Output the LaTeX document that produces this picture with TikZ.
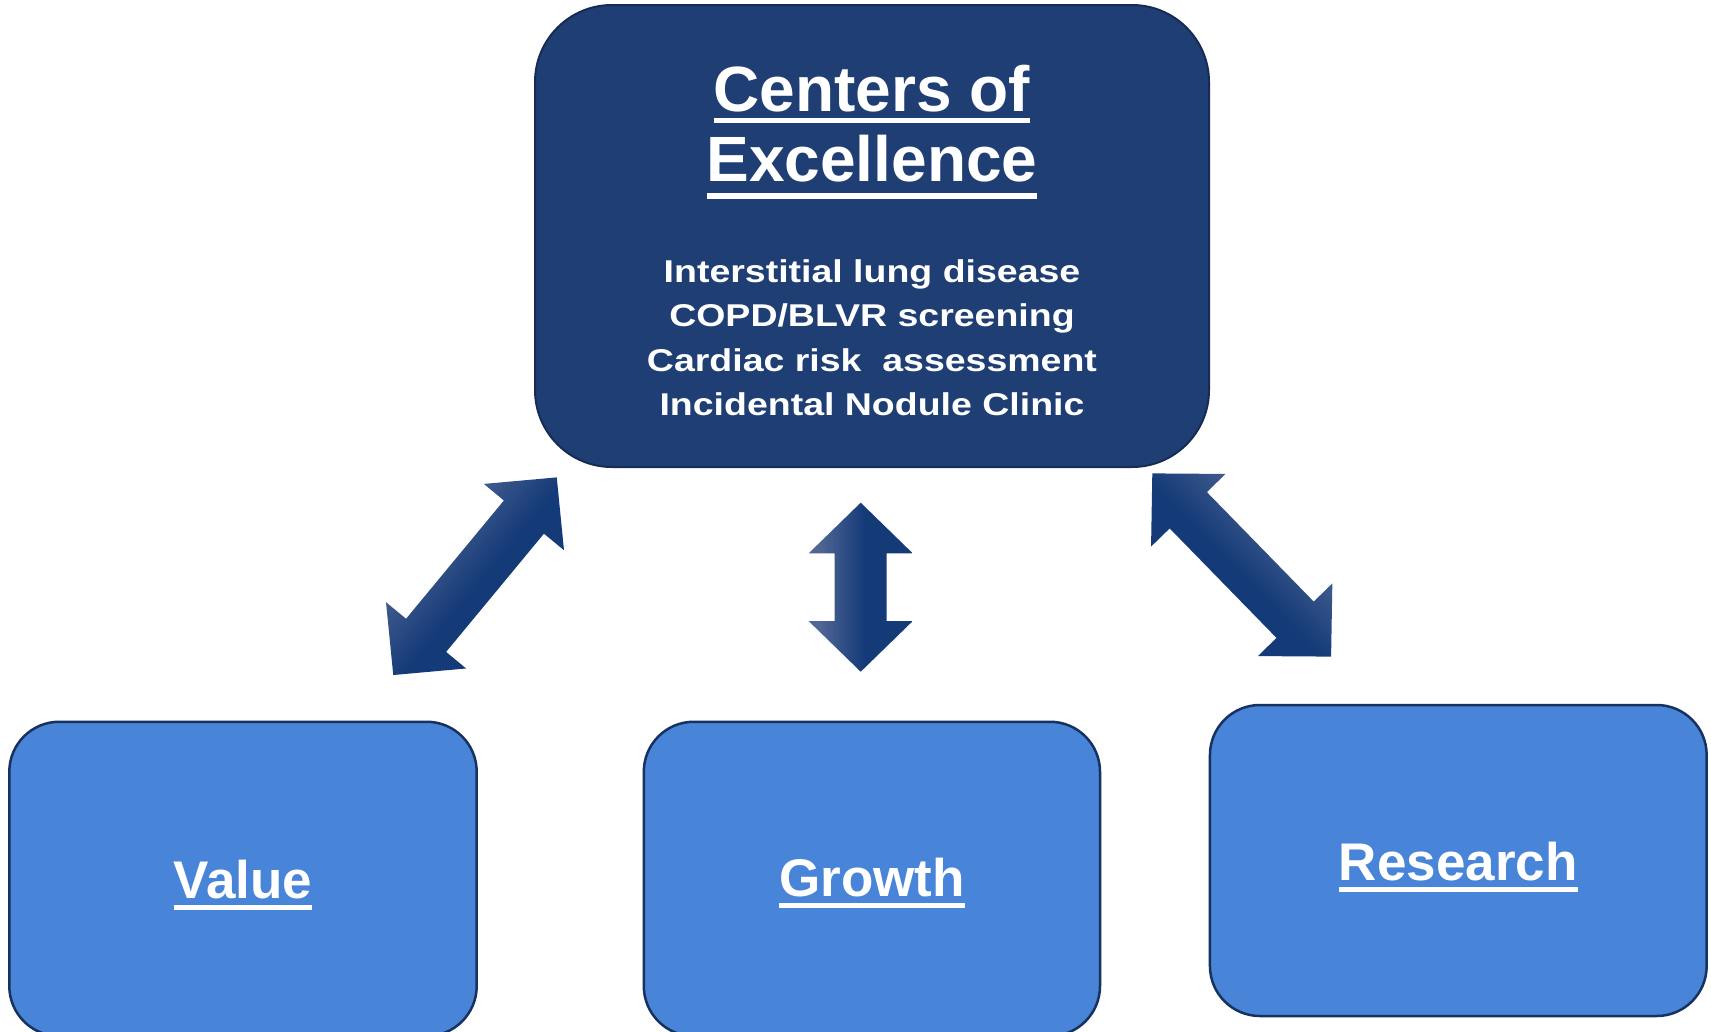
\documentclass[tikz,border=0pt]{standalone}
\usepackage{fontspec}
\setmainfont{Liberation Sans}
\newfontfamily\bodyfont[FakeStretch=1.19]{Liberation Sans}

\definecolor{coefill}{RGB}{30,62,116}
\definecolor{coeline}{RGB}{22,44,86}
\definecolor{boxfill}{RGB}{72,132,216}
\definecolor{boxline}{RGB}{24,50,96}
\definecolor{arrowdark}{RGB}{20,58,120}
\definecolor{arrowlight}{RGB}{80,102,148}

% light edge fading into the dark body of an arrow
\pgfdeclarehorizontalshading{arrowshade}{100bp}{color(0bp)=(arrowlight); color(30bp)=(arrowlight); color(52bp)=(arrowdark); color(100bp)=(arrowdark)}

% underlined text: #1 gap below the baseline, #2 rule thickness, #3 text
\newcommand\ulined[3]{\setbox0=\hbox{#3}\rlap{\rule[\dimexpr-#1-#2\relax]{\wd0}{#2}}\box0}

% double-headed block arrow: centre x, centre y, direction, total length, head length, shading angle
\newcommand\dblarrow[6]{%
  \begin{scope}[shift={(#1,#2)}, rotate=#3]
    \path[shading=arrowshade, shading angle=#6]
      ({-#4/2},0) -- ({-#4/2+#5},52) -- ({-#4/2+#5},26) -- ({#4/2-#5},26)
      -- ({#4/2-#5},52) -- ({#4/2},0) -- ({#4/2-#5},-52) -- ({#4/2-#5},-26)
      -- ({-#4/2+#5},-26) -- ({-#4/2+#5},-52) -- cycle;
  \end{scope}}

\begin{document}
\begin{tikzpicture}[x=1pt, y=-1pt,
  coebox/.style={draw=coeline, line width=2pt, fill=coefill, rounded corners=77pt, inner sep=0pt},
  smallbox/.style={draw=boxline, line width=2.5pt, fill=boxfill, rounded corners=50pt, inner sep=0pt},
  titletext/.style={text=white, inner sep=0pt, font=\fontsize{64}{72}\selectfont\bfseries},
  bodytext/.style={text=white, inner sep=0pt, font=\bodyfont\fontsize{31.5}{44}\selectfont\bfseries},
  labeltext/.style={text=white, inner sep=0pt, font=\fontsize{53}{60}\selectfont\bfseries}
]
\clip (0,0) rectangle (1711,1031);
\fill[white] (0,0) rectangle (1711,1031);

% central box
\node[coebox, minimum width=674pt, minimum height=462pt] (coe) at (872,236) {};
\node[titletext, anchor=base] (title1) at (872,111) {\ulined{6.7pt}{5.5pt}{Centers of}};
\node[titletext, anchor=base] (title2) at (872,181) {\ulined{12pt}{6pt}{Excellence}};
\node[bodytext, anchor=base] (item1) at (872,282) {Interstitial lung disease};
\node[bodytext, anchor=base] (item2) at (872,326.5) {COPD/BLVR screening};
\node[bodytext, anchor=base] (item3) at (872,371) {Cardiac risk~~assessment};
\node[bodytext, anchor=base] (item4) at (872,415.5) {Incidental Nodule Clinic};

% lower boxes
\node[smallbox, minimum width=467.4pt, minimum height=314.3pt] (value) at (243,878.9) {};
\node[smallbox, minimum width=456.2pt, minimum height=314.3pt] (growth) at (871.9,878.9) {};
\node[smallbox, minimum width=496.7pt, minimum height=311pt] (research) at (1458.3,860.5) {};
\node[labeltext, anchor=base] (valuelabel) at (243,898.3) {\ulined{6.5pt}{4.7pt}{Value}};
\node[labeltext, anchor=base] (growthlabel) at (871.9,896.7) {\ulined{6.5pt}{4.7pt}{Growth}};
\node[labeltext, anchor=base] (researchlabel) at (1458.3,880.7) {\ulined{6.5pt}{4.7pt}{Research}};

% block arrows between the central box and the lower boxes
\dblarrow{475}{576.2}{50.4}{256.5}{51.5}{-39.6}
\dblarrow{860.7}{587.2}{90}{169}{50.6}{0}
\dblarrow{1241.7}{565}{-45.7}{256}{51.5}{-135.7}
\end{tikzpicture}
\end{document}
